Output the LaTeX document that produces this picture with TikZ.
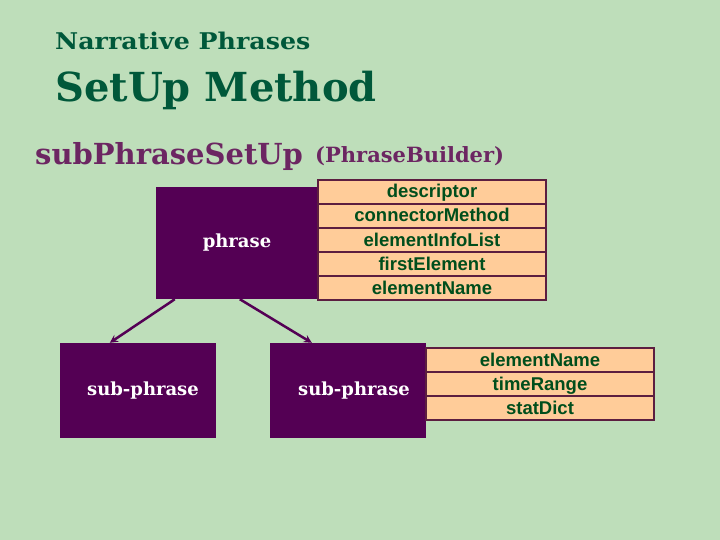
\documentclass[tikz,border=0pt]{standalone}
\usepackage{fontspec}
\setmainfont{DejaVu Serif}
\newfontfamily\fieldfont{Liberation Sans}
\usetikzlibrary{arrows, positioning}

\definecolor{slidebg}{RGB}{190,222,186}
\definecolor{titlegreen}{RGB}{0,88,58}
\definecolor{headpurple}{RGB}{108,38,98}
\definecolor{boxpurple}{RGB}{84,0,84}
\definecolor{fieldfill}{RGB}{255,204,153}
\definecolor{fieldline}{RGB}{92,30,64}
\definecolor{fieldtext}{RGB}{0,78,28}

\begin{document}
\begin{tikzpicture}[
            x = 1pt, y = -1pt,
            > = stealth, % arrow head style
            shorten > = 0pt,
            node distance = 0pt, % fields sit on top of each other
        ]

        \tikzset{
            heading/.style = {
                anchor = base west,
                inner sep = 0pt
            },
            objbox/.style = {
                fill = boxpurple,
                text = white,
                font = \bfseries\fontsize{18}{20}\selectfont,
                inner sep = 0pt
            },
            field/.style = {
                draw = fieldline,
                line width = 1.5pt,
                fill = fieldfill,
                text = fieldtext,
                font = \fieldfont\bfseries\fontsize{18.5}{20}\selectfont,
                minimum width = 228pt,
                minimum height = 24pt,
                text height = 15pt,
                text depth = 3pt,
                inner sep = 0pt,
                outer sep = 0pt
            },
            link/.style = {->, boxpurple, line width = 2.5pt}
        }

        % background of the slide
        \fill[slidebg] (0,0) rectangle (720,540);
        \useasboundingbox (0,0) rectangle (720,540);

        % headings
        \node[heading, text=titlegreen,
              font=\bfseries\addfontfeature{FakeStretch=1.1}\fontsize{23}{26}\selectfont] (top) at (55,50) {Narrative Phrases};
        \node[heading, text=titlegreen,
              font=\bfseries\fontsize{40}{44}\selectfont] (title) at (55,102) {SetUp Method};
        \node[heading, text=headpurple,
              font=\bfseries\fontsize{29}{32}\selectfont] (method) at (35,165) {subPhraseSetUp};
        \node[heading, text=headpurple,
              font=\bfseries\fontsize{21}{24}\selectfont] (class) at (315,163) {(PhraseBuilder)};

        % phrase object and its fields
        \node[objbox, minimum width=162pt, minimum height=112pt] (phrase) at (237,243) {phrase};
        \node[field, anchor=north west] (f1) at (318,180) {descriptor};
        \node[field] (f2) [below=of f1] {connectorMethod};
        \node[field] (f3) [below=of f2] {elementInfoList};
        \node[field] (f4) [below=of f3] {firstElement};
        \node[field] (f5) [below=of f4] {elementName};

        % sub-phrases
        \node[objbox, minimum width=156pt, minimum height=95pt] (subL) at (138,390.5) {\hspace{10pt}sub-phrase};
        \node[objbox, minimum width=156pt, minimum height=95pt] (subR) at (348,390.5) {\hspace{12pt}sub-phrase};
        \node[field, anchor=north west] (g1) at (426,348) {elementName};
        \node[field] (g2) [below=of g1] {timeRange};
        \node[field] (g3) [below=of g2] {statDict};

        \draw[link] ([xshift=19pt]phrase.south west) -- ([xshift=50pt]subL.north west);
        \draw[link] ([xshift=84pt]phrase.south west) -- ([xshift=42pt]subR.north west);
    \end{tikzpicture}
\end{document}
